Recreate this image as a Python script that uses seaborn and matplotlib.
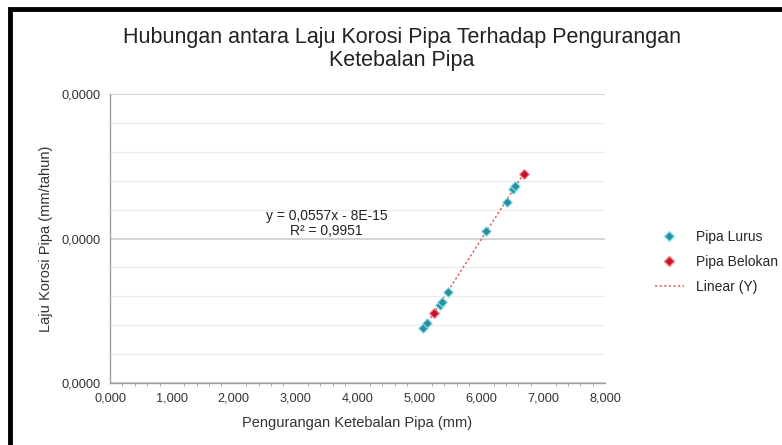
import matplotlib
matplotlib.use("Agg")
import matplotlib.pyplot as plt
import matplotlib.ticker as mticker
from matplotlib.lines import Line2D
from matplotlib.patches import Rectangle
import pandas as pd
import seaborn as sns

# Data
lurus_x = [5.06, 5.12, 5.33, 5.37, 5.46, 6.07, 6.41, 6.51, 6.55]
lurus_y = [0.762e-5, 0.830e-5, 1.080e-5, 1.126e-5, 1.264e-5, 2.108e-5, 2.510e-5, 2.686e-5, 2.726e-5]
belokan_x = [5.23, 6.69]
belokan_y = [0.968e-5, 2.892e-5]

series_names = ["Pipa Lurus", "Pipa Belokan"]
x_ticks = [0, 1, 2, 3, 4, 5, 6, 7, 8]
y_ticks = [0, 2e-5, 4e-5]

title = "Hubungan antara Laju Korosi Pipa Terhadap Pengurangan\nKetebalan Pipa"
x_label = "Pengurangan Ketebalan Pipa (mm)"
y_label = "Laju Korosi Pipa (mm/tahun)"
trend_label = "y = 0,0557x - 8E-15\nR\u00b2 = 0,9951"

df = pd.DataFrame({
    "x": lurus_x + belokan_x,
    "y": lurus_y + belokan_y,
    "seri": [series_names[0]] * len(lurus_x) + [series_names[1]] * len(belokan_x),
})

sns.set_theme(style="white")
plt.rcParams["font.family"] = ["Liberation Sans", "DejaVu Sans"]

colors = {"Pipa Lurus": "#2f8c9c", "Pipa Belokan": "#c8102e"}
edge = {"Pipa Lurus": "#86e3f2", "Pipa Belokan": "#f08080"}
trend_color = "#d96464"

fig = plt.figure(figsize=(7.82, 4.45), dpi=100)
ax = fig.add_axes([0.1407, 0.1393, 0.633, 0.6494])

# trendline over all points
sns.regplot(data=df, x="x", y="y", scatter=False, ci=None, truncate=True, ax=ax,
            line_kws=dict(color=trend_color, lw=1.1, ls=(0, (1.5, 1.5))))

for name in series_names:
    sub = df[df["seri"] == name]
    sns.scatterplot(data=sub, x="x", y="y", ax=ax, marker="D", s=24,
                    color=colors[name], edgecolor=edge[name], linewidth=0.8,
                    zorder=3, legend=False)

ax.set_xlim(0, 8)
ax.set_ylim(0, 4e-5)
ax.set_xticks(x_ticks)
ax.set_yticks(y_ticks)
ax.xaxis.set_minor_locator(mticker.MultipleLocator(0.2))
ax.yaxis.set_minor_locator(mticker.MultipleLocator(0.4e-5))
ax.xaxis.set_major_formatter(mticker.FuncFormatter(lambda v, p: f"{v:,.3f}".replace(".", ",")))
ax.yaxis.set_major_formatter(mticker.FuncFormatter(lambda v, p: f"{v:.4f}".replace(".", ",")))

ax.grid(True, which="major", axis="y", color="#c8c8c8", lw=1.1)
ax.grid(True, which="minor", axis="y", color="#ececec", lw=0.9)
ax.set_axisbelow(True)

for s in ["top", "right"]:
    ax.spines[s].set_visible(False)
for s in ["left", "bottom"]:
    ax.spines[s].set_color("#a0a0a0")
    ax.spines[s].set_linewidth(1.0)

ax.tick_params(axis="both", which="major", direction="out", length=4, width=0.8,
               color="#a0a0a0", labelsize=9.2, labelcolor="#333333", pad=3)
ax.tick_params(axis="x", which="minor", direction="out", length=2, width=0.6,
               color="#a0a0a0", bottom=True)
ax.tick_params(axis="y", which="minor", left=False)

ax.set_xlabel(x_label, fontsize=10.5, color="#333333", labelpad=8)
ax.set_ylabel(y_label, fontsize=10.5, color="#333333", labelpad=6)

fig.text(0.514, 0.889, title, ha="center", va="center", fontsize=15.5,
         color="#222222", linespacing=1.12)

ax.text(3.50, 2.21e-5, trend_label, ha="center", va="center", fontsize=10,
        color="#222222", linespacing=1.15)

handles = [
    Line2D([], [], marker="D", ls="none", markersize=5.5, color=colors["Pipa Lurus"],
           markeredgecolor=edge["Pipa Lurus"]),
    Line2D([], [], marker="D", ls="none", markersize=5.5, color=colors["Pipa Belokan"],
           markeredgecolor=edge["Pipa Belokan"]),
    Line2D([], [], color=trend_color, lw=1.1, ls=(0, (1.5, 1.5))),
]
fig.legend(handles, ["Pipa Lurus", "Pipa Belokan", "Linear (Y)"],
           loc="center left", bbox_to_anchor=(0.821, 0.411), frameon=False,
           fontsize=10, handlelength=2.15, handletextpad=0.85, labelspacing=0.8)

# black frame (left and top only, the rest is cropped in the reference)
fig.patches.append(Rectangle((0.013, -0.05), 1.05, 1.03, transform=fig.transFigure,
                             fill=False, edgecolor="black", lw=3.5))

fig.savefig("out.png", dpi=100)
